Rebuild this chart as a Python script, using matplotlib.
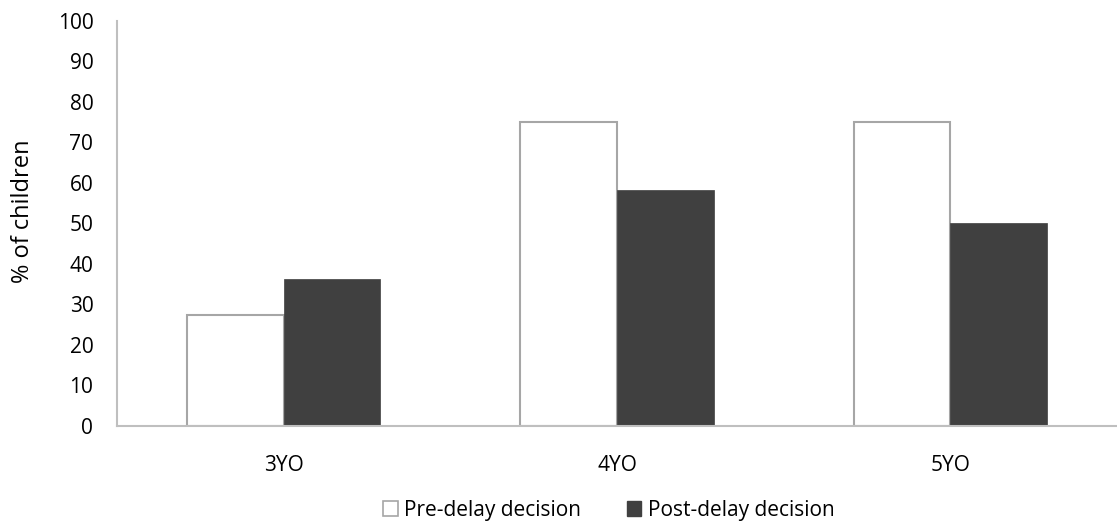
import matplotlib.pyplot as plt
import numpy as np
from matplotlib.patches import Patch

plt.rcParams['font.family'] = ['Open Sans', 'DejaVu Sans']

groups = ["3YO", "4YO", "5YO"]
pre_delay = [27.3, 75.0, 75.0]
post_delay = [36.4, 58.3, 50.0]
series_names = ["Pre-delay decision", "Post-delay decision"]

fig = plt.figure(figsize=(11.17, 5.25), dpi=100)
ax = fig.add_axes([0.1047, 0.1886, 0.8953, 0.7714])

x = np.arange(len(groups))
w = 0.29
ax.bar(x - w / 2, pre_delay, width=w, color="white", edgecolor="#a6a6a6", linewidth=1.5)
ax.bar(x + w / 2, post_delay, width=w, color="#404040", edgecolor="#404040", linewidth=0.5)

ax.set_xlim(-0.5, len(groups) - 0.5)
ax.set_ylim(0, 100)
ax.set_yticks(range(0, 101, 10))
ax.set_xticks(x)
ax.set_xticklabels(groups)
ax.tick_params(axis="both", length=0, labelsize=15, colors="black")
ax.tick_params(axis="y", pad=17)
ax.tick_params(axis="x", pad=21)

for side in ["top", "right"]:
    ax.spines[side].set_visible(False)
for side in ["left", "bottom"]:
    ax.spines[side].set_color("#bfbfbf")
    ax.spines[side].set_linewidth(1.5)

ax.set_ylabel("% of children", fontsize=17)
ax.yaxis.set_label_coords(-0.082, 0.53)

handles = [Patch(facecolor="white", edgecolor="#a6a6a6", linewidth=1.2),
           Patch(facecolor="#404040", edgecolor="#404040")]
fig.legend(handles, series_names, loc="center", bbox_to_anchor=(0.545, 0.028),
           ncol=2, frameon=False, fontsize=15, handlelength=0.7, handleheight=0.7,
           handletextpad=0.3, columnspacing=2.2)

fig.savefig("out.png", dpi=100)
